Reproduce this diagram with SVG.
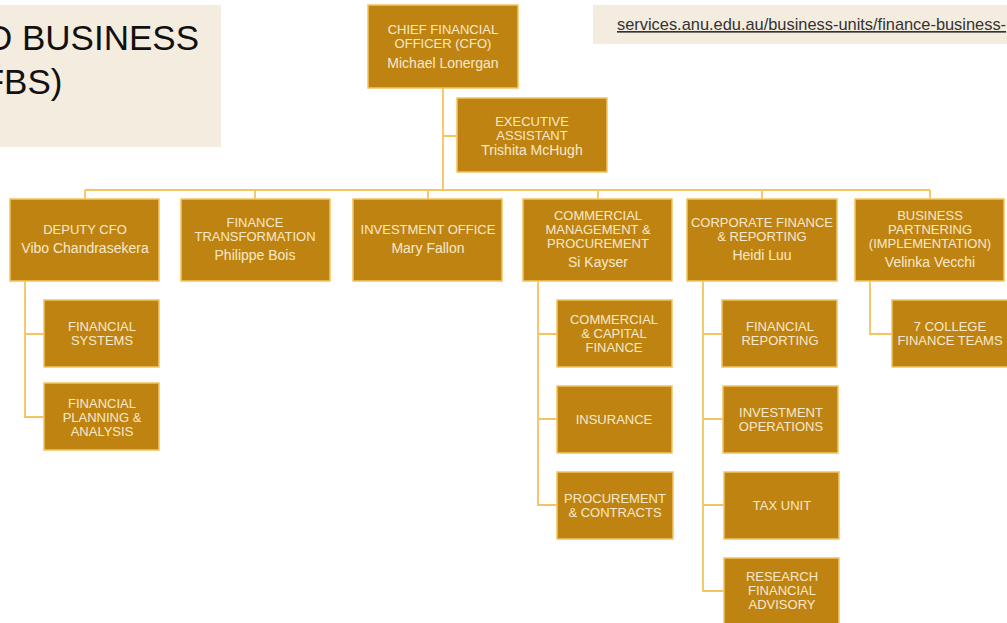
<svg xmlns="http://www.w3.org/2000/svg" width="1007" height="623" viewBox="0 0 1007 623">
<style>
.bg{fill:#f4ecdf}
.box{fill:#bf8312;stroke:#f3c462;stroke-width:1.5}
.t{font-family:"Liberation Sans",Arial,sans-serif;font-size:13px;fill:#f7e9cb;text-anchor:middle}
.n{font-size:14px}
.c{fill:none;stroke:#f3c462;stroke-width:1.8}
.title{font-family:"Liberation Sans",Arial,sans-serif;font-size:35px;fill:#111}
.url{font-family:"Liberation Sans",Arial,sans-serif;font-size:16.4px;fill:#333;text-decoration:underline}
</style>
<rect width="1007" height="623" fill="#ffffff"/>
<g id="title">
<rect class="bg" x="0" y="5" width="221" height="142"/>
<text class="title" x="-13" y="50">D BUSINESS</text>
<text class="title" x="-29" y="94">(FBS)</text>
</g>
<g id="url">
<rect class="bg" x="593" y="5" width="414" height="39"/>
<text class="url" x="617" y="30">services.anu.edu.au/business-units/finance-business-</text>
</g>
<g id="connectors">
<path class="c" d="M443,88 V190 M443,136 H457 M85,190 H930 M85,190 V199 M255,190 V199 M428,190 V199 M598,190 V199 M762,190 V199 M930,190 V199"/>
<path class="c" d="M25,281 V417 H44 M25,334 H44"/>
<path class="c" d="M538,281 V505 H557 M538,334 H557 M538,419 H557"/>
<path class="c" d="M703,281 V591 H724 M703,334 H722 M703,419 H723 M703,505 H724"/>
<path class="c" d="M870,281 V334 H892"/>
</g>
<g id="cfo">
<rect class="box" x="368" y="5" width="150" height="83"/>
<text class="t" x="443" y="34">CHIEF FINANCIAL</text>
<text class="t" x="443" y="48">OFFICER (CFO)</text>
<text class="t n" x="443" y="68">Michael Lonergan</text>
</g>
<g id="ea">
<rect class="box" x="457" y="98" width="150" height="74"/>
<text class="t" x="532" y="126">EXECUTIVE</text>
<text class="t" x="532" y="140">ASSISTANT</text>
<text class="t n" x="532" y="155">Trishita McHugh</text>
</g>
<g id="deputy">
<rect class="box" x="10" y="199" width="149" height="82"/>
<text class="t" x="85" y="234">DEPUTY CFO</text>
<text class="t n" x="85" y="253">Vibo Chandrasekera</text>
</g>
<g id="transformation">
<rect class="box" x="181" y="199" width="149" height="82"/>
<text class="t" x="255" y="227">FINANCE</text>
<text class="t" x="255" y="241">TRANSFORMATION</text>
<text class="t n" x="255" y="260">Philippe Bois</text>
</g>
<g id="investment">
<rect class="box" x="353" y="199" width="149" height="82"/>
<text class="t" x="428" y="234">INVESTMENT OFFICE</text>
<text class="t n" x="428" y="253">Mary Fallon</text>
</g>
<g id="commercial">
<rect class="box" x="523" y="199" width="149" height="82"/>
<text class="t" x="598" y="220">COMMERCIAL</text>
<text class="t" x="598" y="234">MANAGEMENT &amp;</text>
<text class="t" x="598" y="248">PROCUREMENT</text>
<text class="t n" x="598" y="267">Si Kayser</text>
</g>
<g id="corporate">
<rect class="box" x="687" y="199" width="150" height="82"/>
<text class="t" x="762" y="227">CORPORATE FINANCE</text>
<text class="t" x="762" y="241">&amp; REPORTING</text>
<text class="t n" x="762" y="260">Heidi Luu</text>
</g>
<g id="partnering">
<rect class="box" x="855" y="199" width="149" height="82"/>
<text class="t" x="930" y="220">BUSINESS</text>
<text class="t" x="930" y="234">PARTNERING</text>
<text class="t" x="930" y="248">(IMPLEMENTATION)</text>
<text class="t n" x="930" y="267">Velinka Vecchi</text>
</g>
<g id="fin-systems">
<rect class="box" x="44" y="300" width="115" height="67"/>
<text class="t" x="102" y="331">FINANCIAL</text>
<text class="t" x="102" y="345">SYSTEMS</text>
</g>
<g id="fpa">
<rect class="box" x="44" y="383" width="115" height="67"/>
<text class="t" x="102" y="408">FINANCIAL</text>
<text class="t" x="102" y="422">PLANNING &amp;</text>
<text class="t" x="102" y="436">ANALYSIS</text>
</g>
<g id="capital-finance">
<rect class="box" x="557" y="300" width="115" height="67"/>
<text class="t" x="614" y="324">COMMERCIAL</text>
<text class="t" x="614" y="338">&amp; CAPITAL</text>
<text class="t" x="614" y="352">FINANCE</text>
</g>
<g id="insurance">
<rect class="box" x="557" y="386" width="115" height="67"/>
<text class="t" x="614" y="424">INSURANCE</text>
</g>
<g id="procurement">
<rect class="box" x="557" y="472" width="116" height="67"/>
<text class="t" x="615" y="503">PROCUREMENT</text>
<text class="t" x="615" y="517">&amp; CONTRACTS</text>
</g>
<g id="fin-reporting">
<rect class="box" x="722" y="300" width="115" height="67"/>
<text class="t" x="780" y="331">FINANCIAL</text>
<text class="t" x="780" y="345">REPORTING</text>
</g>
<g id="inv-operations">
<rect class="box" x="723" y="386" width="115" height="67"/>
<text class="t" x="781" y="417">INVESTMENT</text>
<text class="t" x="781" y="431">OPERATIONS</text>
</g>
<g id="tax">
<rect class="box" x="724" y="472" width="115" height="67"/>
<text class="t" x="782" y="510">TAX UNIT</text>
</g>
<g id="research">
<rect class="box" x="724" y="558" width="115" height="67"/>
<text class="t" x="782" y="581">RESEARCH</text>
<text class="t" x="782" y="595">FINANCIAL</text>
<text class="t" x="782" y="609">ADVISORY</text>
</g>
<g id="colleges">
<rect class="box" x="892" y="300" width="117" height="67"/>
<text class="t" x="950" y="331">7 COLLEGE</text>
<text class="t" x="950" y="345">FINANCE TEAMS</text>
</g>
</svg>
